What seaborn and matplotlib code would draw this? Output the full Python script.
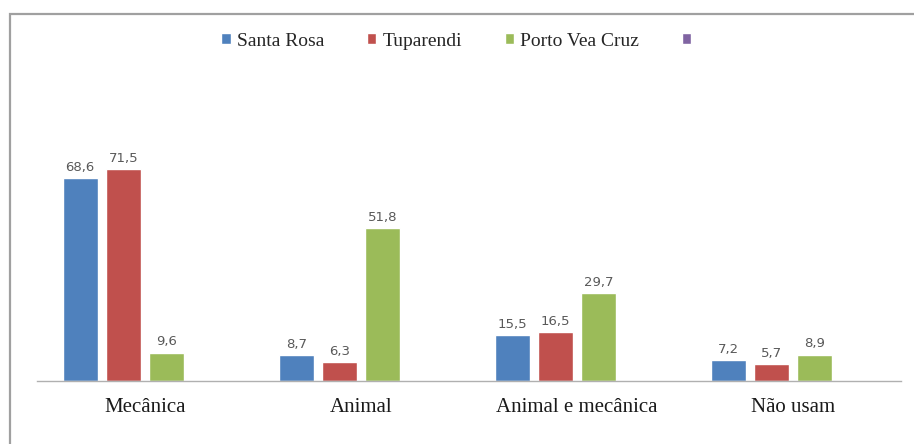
import matplotlib
matplotlib.use("Agg")
import matplotlib.pyplot as plt
from matplotlib.patches import Rectangle
import seaborn as sns
import pandas as pd

categories = ["Mecânica", "Animal", "Animal e mecânica", "Não usam"]
series_names = ["Santa Rosa", "Tuparendi", "Porto Vea Cruz", " "]
santa_rosa = [68.6, 8.7, 15.5, 7.2]
tuparendi = [71.5, 6.3, 16.5, 5.7]
porto_vea_cruz = [9.6, 51.8, 29.7, 8.9]
colors = ["#4F81BD", "#C0504D", "#9BBB59", "#8064A2"]

rows = []
for name, vals in zip(series_names[:3], [santa_rosa, tuparendi, porto_vea_cruz]):
    for cat, v in zip(categories, vals):
        rows.append({"categoria": cat, "local": name, "valor": v})
df = pd.DataFrame(rows)

sns.set_theme(style="white")
plt.rcParams["font.family"] = ["Liberation Serif", "DejaVu Serif"]

fig = plt.figure(figsize=(9.14, 4.44), dpi=100)
ax = fig.add_axes([37 / 914, 1 - 381 / 444, (901 - 37) / 914, (381 - 85) / 444])

sns.barplot(data=df, x="categoria", y="valor", hue="local",
            order=categories, hue_order=series_names, palette=colors,
            width=0.8, gap=0.19, saturation=1, errorbar=None, ax=ax)

for cont in ax.containers:
    labels = [f"{b.get_height():.1f}".replace(".", ",") if b.get_height() == b.get_height() else ""
              for b in cont]
    ax.bar_label(cont, labels=labels, padding=3, fontsize=9.5,
                 color="#595959", family="DejaVu Sans")

ax.set_ylim(0, 100)
ax.set_xlim(-0.5, len(categories) - 0.5)
ax.set_xlabel("")
ax.set_ylabel("")
ax.set_yticks([])
for side in ["left", "right", "top"]:
    ax.spines[side].set_visible(False)
ax.spines["bottom"].set_color("#B0B0B0")
ax.spines["bottom"].set_linewidth(1.0)
ax.tick_params(axis="x", length=0, pad=12, labelsize=15, colors="#1a1a1a")

sns.move_legend(ax, "center", bbox_to_anchor=(0.505, 1 - 41 / 444),
                bbox_transform=fig.transFigure, ncol=4, frameon=False,
                title=None, fontsize=14, handlelength=0.5, handleheight=0.5,
                handletextpad=0.3, columnspacing=2.2)

# outer chart frame
fig.patches.append(Rectangle((9.5 / 914, -0.1), 1.2, 1 - 14 / 444 + 0.1,
                             transform=fig.transFigure, fill=False,
                             edgecolor="#A0A0A0", linewidth=1.6))

fig.savefig("out.png", dpi=100)
